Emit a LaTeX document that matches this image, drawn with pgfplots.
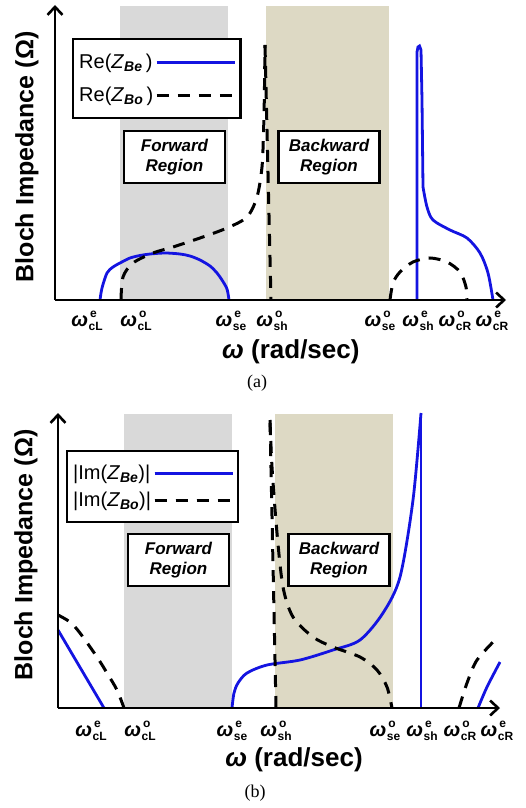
\documentclass[border=0pt]{standalone}
\usepackage{fontspec}
\setmainfont{Liberation Sans}
\newfontfamily\seriffont{Liberation Serif}
\usepackage{pgfplots}
\pgfplotsset{compat=1.18}
\usetikzlibrary{arrows.meta}

\definecolor{bandgray}{RGB}{217,217,217}
\definecolor{bandtan}{RGB}{221,217,196}
\definecolor{cblue}{RGB}{20,20,225}

\newcommand{\W}[2]{{\fontsize{20}{20}\selectfont\bfseries\itshape ω}\kern0.5pt{\fontsize{12}{12}\selectfont\bfseries\rlap{\kern1.5pt\raisebox{8.5pt}{#1}}\raisebox{-4.5pt}{#2}}}

\tikzset{
  bluel/.style={color=cblue, line width=2.8pt},
  dashl/.style={color=black, line width=3pt, dash pattern=on 12pt off 9pt},
  regbox/.style={draw=black, line width=2.4pt, fill=white, minimum width=101pt, minimum height=52pt, align=center, font=\fontsize{17}{20}\selectfont\bfseries\itshape, inner sep=0pt},
}
\pgfplotsset{
  myaxis/.style={
    x=1pt, y=1pt, ymin=0, ymax=295,
    enlargelimits=false, clip=false, axis on top,
    axis lines=left,
    axis line style={line width=2.6pt, -{Straight Barb[length=8pt,width=15pt]}},
    ytick=\empty, major tick length=0pt,
    xticklabel style={anchor=center},
    ylabel={Bloch Impedance (Ω)},
    ylabel style={font=\fontsize{25}{30}\selectfont\bfseries, anchor=center},
    xlabel={{\itshape ω} (rad/sec)},
    xlabel style={font=\fontsize{26}{30}\selectfont\bfseries, anchor=center},
    legend plot pos=right,
    legend cell align=left,
    legend image code/.code={\draw[#1] (0pt,0pt) -- (62pt,0pt); \path (0pt,0pt) -- (78pt,0pt);},
  },
}

\begin{document}
\begin{tikzpicture}
\useasboundingbox (0pt,0pt) rectangle (526pt,-808pt);

% ---------------- panel (a) ----------------
\begin{axis}[myaxis,
  at={(55pt,-300pt)}, anchor=south west,
  xmin=55, xmax=506,
  xtick={87,136,231,272,380,418,455,492},
  xticklabels={\W{e}{cL},\W{o}{cL},\W{e}{se},\W{o}{sh},\W{o}{se},\W{e}{sh},\W{o}{cR},\W{e}{cR}},
  every x tick label/.append style={yshift=-21pt},
  xlabel style={at={(axis description cs:0.523,0)}, yshift=-52pt},
  ylabel style={at={(axis description cs:0,0.485)}, yshift=28pt},
  legend style={at={(axis cs:72,262)}, anchor=north west, draw=black, line width=2.4pt, fill=white,
    font=\fontsize{20}{20}\selectfont, inner xsep=4pt, inner ysep=13pt, row sep=13pt},
]
\fill[bandgray] (axis cs:120,0) rectangle (axis cs:228,294);
\fill[bandtan] (axis cs:266,0) rectangle (axis cs:389,294);

\addplot[bluel, smooth] coordinates {(100,0) (102,12) (107,27) (113,33) (120,37) (130,42) (140,44.5) (150,46) (165,47) (180,46) (190,44) (200,40) (210,34) (217,27) (222,20) (227,11) (229,0)};
\addlegendentry{Re(\textit{Z}\textsubscript{\textbf{\textit{Be}}}\,)}

\addplot[dashl, smooth] coordinates {(121,0) (123,23) (133,37) (153,47) (173,53) (200,62) (227,72) (247,83) (257,103) (262,133) (263.5,167) (264.3,200) (265,255)};
\addlegendentry{Re(\textit{Z}\textsubscript{\textbf{\textit{Bo}}}\,)}
\addplot[dashl, forget plot] coordinates {(265,255) (271,0)};

\addplot[bluel, forget plot] coordinates {(417,0) (417,248) (418,253) (419.5,254) (421,250) (422,200) (423,113)};
\addplot[bluel, smooth, forget plot] coordinates {(423,113) (427,93) (433,80) (450,70) (467,62) (480,47) (488,27) (493,0)};

\addplot[dashl, smooth, forget plot] coordinates {(390,0) (393,17) (400,28) (413,38) (430,42) (447,38) (460,28) (466,13) (467,0)};

\node[regbox] at (axis cs:174.5,143) {Forward\\Region};
\node[regbox] at (axis cs:329,143) {Backward\\Region};
\end{axis}

% ---------------- panel (b) ----------------
\begin{axis}[myaxis,
  at={(58pt,-708pt)}, anchor=south west,
  xmin=58, xmax=500,
  xtick={91,140,232,276,385,422,460,497},
  xticklabels={\W{e}{cL},\W{o}{cL},\W{e}{se},\W{o}{sh},\W{o}{se},\W{e}{sh},\W{o}{cR},\W{e}{cR}},
  every x tick label/.append style={yshift=-23pt},
  xlabel style={at={(axis description cs:0.534,0)}, yshift=-52pt},
  ylabel style={at={(axis description cs:0,0.519)}, yshift=32pt},
  legend style={at={(axis cs:66,258)}, anchor=north west, draw=black, line width=2.4pt, fill=white,
    font=\fontsize{20}{20}\selectfont, inner xsep=4pt, inner ysep=12pt, row sep=7pt},
]
\fill[bandgray] (axis cs:124,0) rectangle (axis cs:232,294);
\fill[bandtan] (axis cs:275,0) rectangle (axis cs:393,294);

\addplot[bluel] coordinates {(58,78) (104,0)};
\addlegendentry{|Im(\textit{Z}\textsubscript{\textbf{\textit{Be}}})|}

\addplot[dashl, smooth] coordinates {(58,93) (70,86) (80,75) (97,51) (107,35) (117,18) (124,0)};
\addlegendentry{|Im(\textit{Z}\textsubscript{\textbf{\textit{Bo}}})|}

\addplot[bluel, smooth, forget plot] coordinates {(232,0) (234,15) (238,25) (247,35) (267,43) (300,48) (333,58) (360,68) (383,95) (400,131) (413,208) (421,295)};
\addplot[bluel, forget plot] coordinates {(421,295) (421,0)};

\addplot[dashl, forget plot] coordinates {(276,0) (270,288)};
\addplot[dashl, smooth, forget plot] coordinates {(270,288) (272,241) (277,175) (283,121) (293,91) (313,71) (333,61) (360,51) (377,38) (387,21) (392,0)};

\addplot[dashl, smooth, forget plot] coordinates {(459,0) (467,25) (477,48) (497,70)};
\addplot[bluel, smooth, forget plot] coordinates {(478,0) (487,21) (500,46)};

\node[regbox] at (axis cs:178.5,148) {Forward\\Region};
\node[regbox] at (axis cs:339,148) {Backward\\Region};
\end{axis}

\node[font=\seriffont\fontsize{18}{18}\selectfont] at (257pt,-383pt) {(a)};
\node[font=\seriffont\fontsize{18}{18}\selectfont] at (255pt,-793pt) {(b)};
\end{tikzpicture}
\end{document}
